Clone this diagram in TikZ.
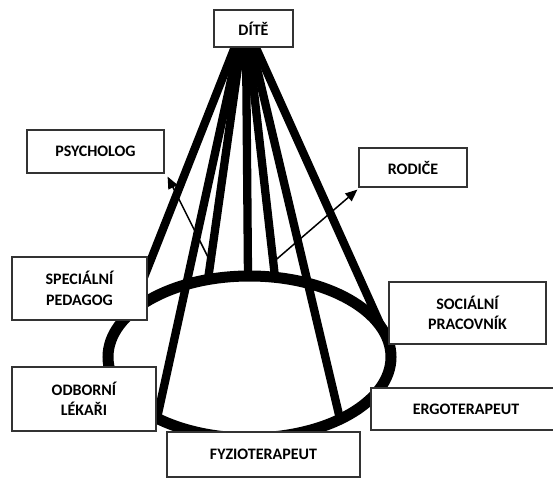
\documentclass[tikz,border=0pt]{standalone}
\usepackage{fontspec}
\setmainfont{Carlito}
\usetikzlibrary{arrows.meta,calc,backgrounds}
\begin{document}
\begin{tikzpicture}[x=1pt,y=-1pt,
  lbl/.style={draw=black!80, line width=1.2pt, fill=white,
    font=\bfseries\fontsize{16}{20.5}\selectfont, align=center, inner sep=0pt},
  cone/.style={line width=8.3pt},
  ring/.style={line width=11pt},
  pointer/.style={line width=1.5pt, -{Triangle[length=12pt,width=10pt]}}]
\useasboundingbox (0,0) rectangle (553,478);
\clip (0,0) rectangle (553,478);
% boxes
\node[lbl, minimum width=79pt, minimum height=37pt] (dite) at (253.5,28.5) {DÍTĚ};
\node[lbl, minimum width=137pt, minimum height=43pt] (psych) at (95.5,151.5) {PSYCHOLOG};
\node[lbl, minimum width=108pt, minimum height=39pt] (rod) at (413,167.5) {RODIČE};
\node[lbl, minimum width=135pt, minimum height=63pt] (sped) at (79.5,288.5) {SPECIÁLNÍ\\PEDAGOG};
\node[lbl, minimum width=157pt, minimum height=62pt] (soc) at (467.5,313) {SOCIÁLNÍ\\PRACOVNÍK};
\node[lbl, minimum width=144pt, minimum height=64pt] (odb) at (84,399) {ODBORNÍ\\LÉKAŘI};
\node[lbl, minimum width=190pt, minimum height=42pt] (ergo) at (466,409) {ERGOTERAPEUT};
\node[lbl, minimum width=193pt, minimum height=45pt] (fyz) at (263.5,454.5) {FYZIOTERAPEUT};
% cone apex points (inside the DÍTĚ box) and ring points
\coordinate (sA) at (238,39);
\coordinate (sB) at (240,39);
\coordinate (sC) at (242,39);
\coordinate (sD) at (246,39);
\coordinate (sE) at (248,39);
\coordinate (sF) at (250,39);
\coordinate (sG) at (252,39);
\coordinate (rc) at (249.5,357);
\coordinate (eA) at (130,312.7);
\coordinate (eB) at (157,418.3);
\coordinate (eC) at (208,279.6);
\coordinate (eD) at (248,276);
\coordinate (eE) at (275,277.3);
\coordinate (eF) at (340,419);
\coordinate (eG) at (389,343.5);
\coordinate (tipP) at ($(psych.south east)+(3,3)$);
\coordinate (tipR) at ($(rod.south west)+(-1,2)$);
\begin{scope}[on background layer]
  \draw[ring] (rc) ellipse [x radius=141.5, y radius=81];
  \draw[cone] (sA) -- (eA);
  \draw[cone] (sB) -- (eB);
  \draw[cone] (sC) -- (eC);
  \draw[cone] (sD) -- (eD);
  \draw[cone] (sE) -- (eE);
  \draw[cone] (sF) -- (eF);
  \draw[cone] (sG) -- (eG);
  \draw[pointer] ($(sC)!0.927!(eC)$) -- (tipP);
  \draw[pointer] ($(sE)!0.936!(eE)$) -- (tipR);
\end{scope}
\end{tikzpicture}
\end{document}
